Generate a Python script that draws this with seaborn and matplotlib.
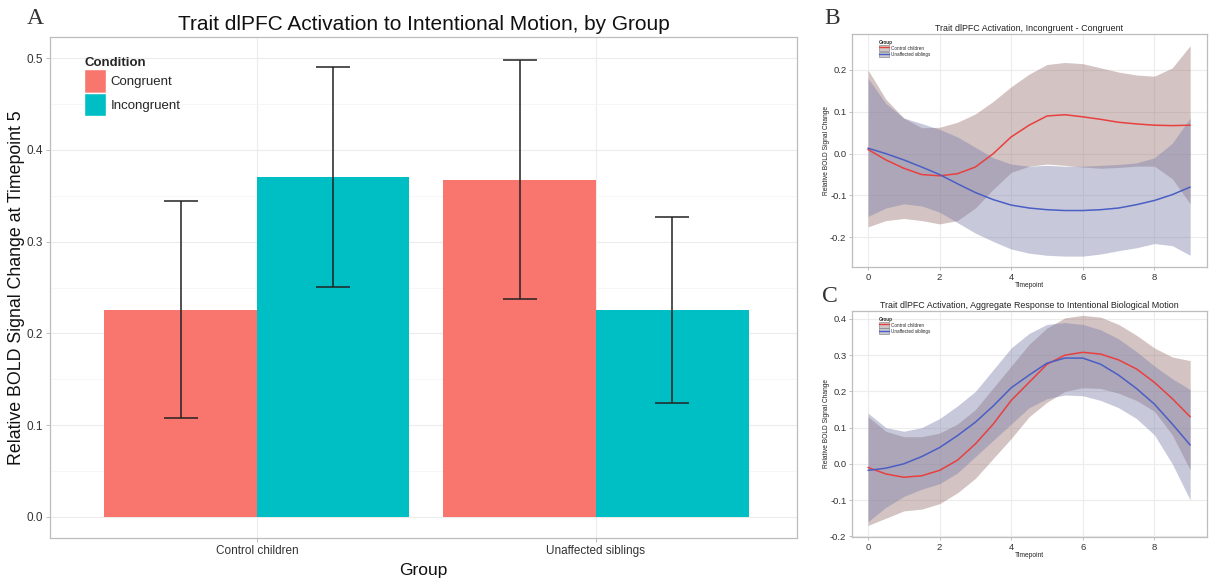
import numpy as np
import pandas as pd
import matplotlib
matplotlib.use("Agg")
import matplotlib.pyplot as plt
import seaborn as sns
from matplotlib.patches import Patch
from matplotlib.lines import Line2D

# ---------------- data: panel A ----------------
groups = ["Control children", "Unaffected siblings"]
conditions = ["Congruent", "Incongruent"]
congruent_vals = [0.225, 0.367]
incongruent_vals = [0.370, 0.225]
congruent_lo = [0.108, 0.237]
congruent_hi = [0.344, 0.498]
incongruent_lo = [0.251, 0.124]
incongruent_hi = [0.490, 0.327]

# ---------------- data: panels B and C ----------------
timepoints = [0, 0.5, 1, 1.5, 2, 2.5, 3, 3.5, 4, 4.5, 5, 5.5, 6, 6.5, 7, 7.5, 8, 8.5, 9]

b_ctrl = [0.01, -0.015, -0.035, -0.05, -0.053, -0.048, -0.032, 0.0, 0.04, 0.068, 0.09, 0.093,
          0.088, 0.082, 0.075, 0.071, 0.068, 0.067, 0.068]
b_ctrl_hi = [0.2, 0.13, 0.085, 0.062, 0.063, 0.075, 0.095, 0.125, 0.16, 0.19, 0.213, 0.218,
             0.215, 0.205, 0.195, 0.188, 0.185, 0.205, 0.258]
b_ctrl_lo = [-0.175, -0.16, -0.155, -0.16, -0.168, -0.16, -0.13, -0.085, -0.045, -0.03, -0.025,
             -0.028, -0.032, -0.035, -0.033, -0.03, -0.03, -0.06, -0.12]
b_sib = [0.013, 0.0, -0.015, -0.032, -0.05, -0.072, -0.093, -0.11, -0.123, -0.13, -0.134, -0.136,
         -0.136, -0.134, -0.13, -0.122, -0.112, -0.098, -0.08]
b_sib_hi = [0.18, 0.12, 0.085, 0.072, 0.058, 0.04, 0.015, -0.01, -0.025, -0.03, -0.028, -0.03,
            -0.03, -0.028, -0.026, -0.022, -0.01, 0.025, 0.085]
b_sib_lo = [-0.15, -0.13, -0.12, -0.125, -0.14, -0.165, -0.19, -0.21, -0.228, -0.238, -0.243,
            -0.245, -0.245, -0.24, -0.232, -0.225, -0.215, -0.22, -0.243]

c_ctrl = [-0.01, -0.028, -0.037, -0.033, -0.018, 0.01, 0.055, 0.11, 0.175, 0.225, 0.275, 0.3,
          0.308, 0.303, 0.287, 0.262, 0.225, 0.18, 0.13]
c_ctrl_hi = [0.13, 0.09, 0.075, 0.075, 0.085, 0.11, 0.15, 0.21, 0.27, 0.33, 0.375, 0.403,
             0.41, 0.405, 0.385, 0.355, 0.32, 0.295, 0.285]
c_ctrl_lo = [-0.17, -0.15, -0.13, -0.125, -0.11, -0.08, -0.04, 0.015, 0.07, 0.13, 0.17, 0.2,
             0.21, 0.208, 0.195, 0.175, 0.145, 0.08, -0.017]
c_sib = [-0.018, -0.012, 0.0, 0.02, 0.045, 0.078, 0.115, 0.16, 0.21, 0.245, 0.278, 0.292,
         0.292, 0.275, 0.245, 0.208, 0.165, 0.11, 0.052]
c_sib_hi = [0.14, 0.1, 0.09, 0.1, 0.125, 0.16, 0.2, 0.26, 0.32, 0.36, 0.385, 0.39,
            0.385, 0.37, 0.345, 0.31, 0.27, 0.235, 0.205]
c_sib_lo = [-0.16, -0.12, -0.09, -0.07, -0.055, -0.025, 0.02, 0.065, 0.11, 0.155, 0.18, 0.19,
            0.188, 0.175, 0.155, 0.125, 0.08, 0.0, -0.1]

# ---------------- style ----------------
sns.set_theme(style="white")
plt.rcParams["font.family"] = ["Liberation Sans", "DejaVu Sans"]

W, H = 1212, 583
fig = plt.figure(figsize=(W / 100, H / 100), dpi=100)

def px_axes(left, top, right, bottom):
    return fig.add_axes([left / W, (H - bottom) / H, (right - left) / W, (bottom - top) / H])

GRID = "#ececec"
BORDER = "#bdbdbd"

def style_axes(ax, tick_size):
    for s in ax.spines.values():
        s.set_color(BORDER)
        s.set_linewidth(0.9)
    ax.set_facecolor("white")
    ax.tick_params(axis="both", which="major", length=3, width=0.7, color=BORDER,
                   labelsize=tick_size, labelcolor="#333333", pad=2, left=True, bottom=True)
    ax.grid(True, which="major", color=GRID, linewidth=0.8)
    ax.set_axisbelow(True)

# ---------------- panel A ----------------
axA = px_axes(50, 37, 797, 538)
dfA = pd.DataFrame({
    "Group": groups * 2,
    "Condition": [conditions[0]] * 2 + [conditions[1]] * 2,
    "Value": congruent_vals + incongruent_vals,
})
sns.barplot(data=dfA, x="Group", y="Value", hue="Condition", order=groups,
            hue_order=conditions, palette=["#F8766D", "#00BFC4"], saturation=1,
            width=0.9, errorbar=None, ax=axA, linewidth=0, zorder=2)
los = [congruent_lo, incongruent_lo]
his = [congruent_hi, incongruent_hi]
for cont, lo, hi in zip(axA.containers, los, his):
    for bar, l, h in zip(cont, lo, hi):
        cx = bar.get_x() + bar.get_width() / 2
        axA.vlines(cx, l, h, color="#222222", linewidth=1.1, zorder=3)
        axA.hlines([l, h], cx - 0.05, cx + 0.05, color="#222222", linewidth=1.1, zorder=3)

axA.set_xlim(-0.61, 1.593)
axA.set_ylim(-0.0229, 0.5229)
axA.set_yticks([0.0, 0.1, 0.2, 0.3, 0.4, 0.5])
axA.set_yticklabels(["0.0", "0.1", "0.2", "0.3", "0.4", "0.5"])
axA.set_yticks([0.05, 0.15, 0.25, 0.35, 0.45], minor=True)
style_axes(axA, 8.5)
axA.grid(True, which="minor", axis="y", color="#f5f5f5", linewidth=0.6)
axA.set_title("Trait dlPFC Activation to Intentional Motion, by Group", fontsize=15, pad=5,
              color="#111111")
axA.set_xlabel("Group", fontsize=12.5, labelpad=4, color="#111111")
axA.set_ylabel("Relative BOLD Signal Change at Timepoint 5", fontsize=12.8, labelpad=1,
               color="#111111")
handles = [Patch(facecolor="#F8766D", edgecolor="white"), Patch(facecolor="#00BFC4", edgecolor="white")]
legA = axA.legend(handles, conditions, title="Condition", loc="upper left",
                  bbox_to_anchor=(0.035, 0.975), frameon=False, fontsize=9.5,
                  title_fontsize=9.5, handlelength=1.7, handleheight=2.35,
                  handletextpad=0.3, labelspacing=0.0, borderaxespad=0.2)
legA.get_title().set_fontweight("bold")
legA._legend_box.align = "left"

fig.text(35 / W, 1 - 18 / H, "A", family=["Liberation Serif"], fontsize=17,
         ha="center", va="center", color="#333333")

# ---------------- panels B and C ----------------
RED = "#e8403f"
BLUE = "#4a5ec4"
FILL_R = "#9a7474"
FILL_B = "#7a7fab"

def smooth_panel(ax, ctrl, ctrl_lo, ctrl_hi, sib, sib_lo, sib_hi, title, ylim, yticks):
    t = np.array(timepoints)
    ax.fill_between(t, ctrl_lo, ctrl_hi, color=FILL_R, alpha=0.43, linewidth=0, zorder=1)
    ax.fill_between(t, sib_lo, sib_hi, color=FILL_B, alpha=0.42, linewidth=0, zorder=1)
    df = pd.DataFrame({
        "Timepoint": list(t) * 2,
        "Value": list(ctrl) + list(sib),
        "Group": ["Control children"] * len(t) + ["Unaffected siblings"] * len(t),
    })
    sns.lineplot(data=df, x="Timepoint", y="Value", hue="Group",
                 palette=[RED, BLUE], linewidth=1.1, ax=ax, legend=False, zorder=3)
    ax.set_xlim(-0.447, 9.47)
    ax.set_ylim(*ylim)
    ax.set_xticks([0, 2, 4, 6, 8])
    ax.set_xticklabels(["0", "2", "4", "6", "8"])
    ax.set_yticks(yticks)
    ax.set_yticklabels([f"{v:.1f}" for v in yticks])
    style_axes(ax, 6.8)
    ax.tick_params(length=2)
    ax.set_title(title, fontsize=6.4, pad=2, color="#222222")
    ax.set_xlabel("Timepoint", fontsize=4.8, labelpad=0.5, color="#222222")
    ax.set_ylabel("Relative BOLD Signal Change", fontsize=4.8, labelpad=0.3, color="#222222")
    hs = [(Patch(facecolor="#cfc7c7", edgecolor="#777777", linewidth=0.4),
           Line2D([], [], color=RED, linewidth=1)),
          (Patch(facecolor="#c9c9d4", edgecolor="#777777", linewidth=0.4),
           Line2D([], [], color=BLUE, linewidth=1))]
    leg = ax.legend(hs, ["Control children", "Unaffected siblings"], title="Group",
                    loc="upper left", bbox_to_anchor=(0.07, 0.985), frameon=False,
                    fontsize=3.3, title_fontsize=3.3, handlelength=2.2, handleheight=1.6,
                    handletextpad=0.3, labelspacing=0.1, borderaxespad=0.1)
    leg.get_title().set_fontweight("bold")
    leg._legend_box.align = "left"

axB = px_axes(852, 34, 1207, 267)
smooth_panel(axB, b_ctrl, b_ctrl_lo, b_ctrl_hi, b_sib, b_sib_lo, b_sib_hi,
             "Trait dlPFC Activation, Incongruent - Congruent", (-0.271, 0.286),
             [-0.2, -0.1, 0.0, 0.1, 0.2])

axC = px_axes(852, 311, 1207, 537)
smooth_panel(axC, c_ctrl, c_ctrl_lo, c_ctrl_hi, c_sib, c_sib_lo, c_sib_hi,
             "Trait dlPFC Activation, Aggregate Response to Intentional Biological Motion",
             (-0.202, 0.422), [-0.2, -0.1, 0.0, 0.1, 0.2, 0.3, 0.4])

fig.text(832 / W, 1 - 18 / H, "B", family=["Liberation Serif"], fontsize=17,
         ha="center", va="center", color="#333333")
fig.text(830 / W, 1 - 296 / H, "C", family=["Liberation Serif"], fontsize=17,
         ha="center", va="center", color="#333333")

fig.savefig("out.png", dpi=100, facecolor="white")
